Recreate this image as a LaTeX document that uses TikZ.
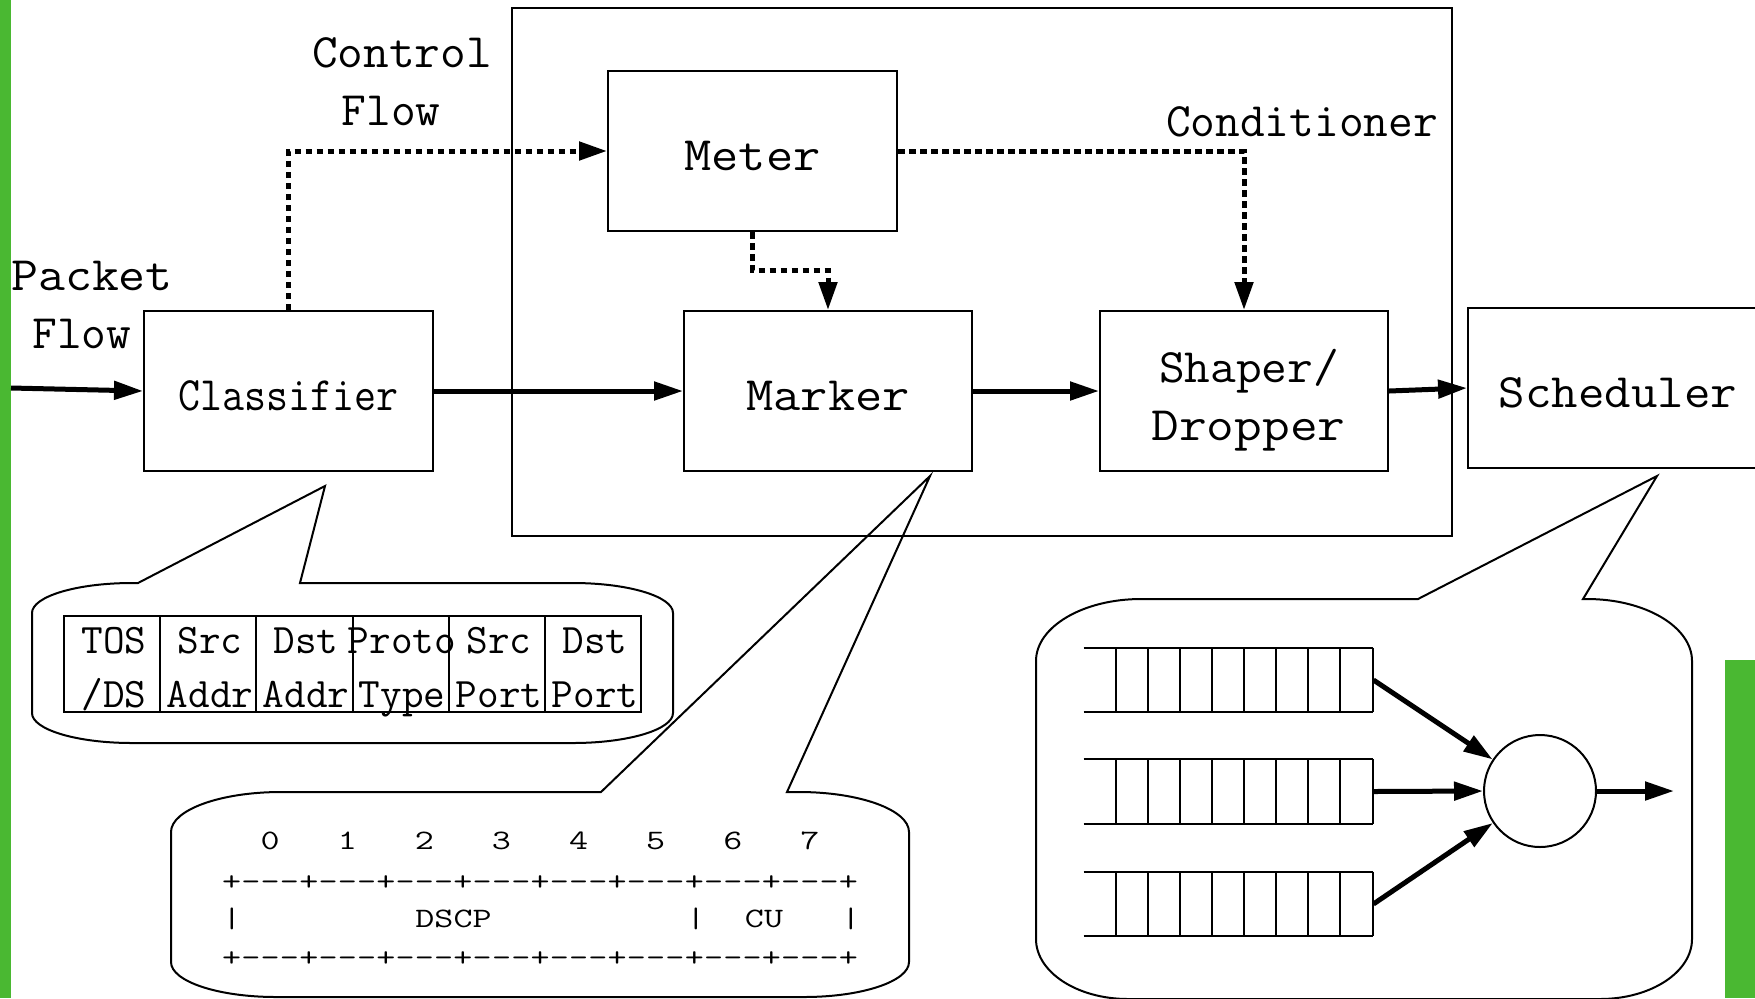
\documentclass[tikz,border=0pt]{standalone}
\usepackage{graphicx}
\usetikzlibrary{arrows.meta,calc}
\definecolor{sidegreen}{RGB}{74,184,50}
\newcommand\hsq[2]{\scalebox{#1}[1]{#2}}
\newcommand\squash[1]{\scalebox{1}[0.76]{#1}}
\begin{document}
\begin{tikzpicture}[x=0.5pt,y=-0.5pt,
  big/.style={font=\fontsize{24}{29}\selectfont\ttfamily},
  lbl/.style={big, inner sep=0pt, anchor=base},
  box/.style={draw, line width=1pt, inner sep=0pt, big, minimum width=144.5pt, minimum height=80pt},
  blk/.style={box, text height=19.5pt, text depth=0pt},
  flow/.style={line width=2.5pt, -{Triangle[length=14.5pt,width=9pt]}},
  ctrl/.style={line width=2.5pt, dash pattern=on 3.25pt off 2.25pt, -{Triangle[length=14pt,width=9pt]}},
  hair/.style={line width=1pt},
  cell/.style={font=\fontsize{21}{27}\selectfont\ttfamily, inner sep=0pt, anchor=base},
  bits/.style={font=\fontsize{18.5}{20}\selectfont\ttfamily, inner sep=0pt, anchor=base},
]
\useasboundingbox (0,0) rectangle (1755,998);
\clip (0,0) rectangle (1755,998);

% side bars
\fill[sidegreen] (0,0) rectangle (11,998);
\fill[sidegreen] (1725,660) rectangle (1755,998);

% conditioner frame and its blocks
\node[draw, hair, minimum width=470pt, minimum height=264pt, inner sep=0pt] (cond) at (982,272) {};
\node[lbl] (condlbl) at (1302,136) {Conditioner};

\node[blk] (cls) at (288.5,391) {\hsq{0.89}{Classifier}};
\node[blk] (meter) at (752.5,151) {\hsq{1.1}{Meter}};
\node[blk, minimum width=144pt] (marker) at (828,391) {\hsq{1.1}{Marker}};
\node[box, minimum width=144pt] (shp) at (1244,391) {};
\node[lbl] (shp1) at (1249,382) {\hsq{1.04}{Shaper/}};
\node[lbl] (shp2) at (1248.5,440) {\hsq{1.12}{Dropper}};
\node[blk, minimum width=150pt] (sch) at (1618,388) {\hsq{1.07}{Scheduler}};

% flow labels
\node[lbl] (ctl1) at (402,67) {\hsq{1.04}{Control}};
\node[lbl] (ctl2) at (391,125) {Flow};
\node[lbl] (pk1) at (92,290) {\hsq{1.09}{Packet}};
\node[lbl] (pk2) at (82,348) {Flow};

% packet path
\coordinate (pin) at (11,388);
\draw[flow] (pin) -- (cls.west);
\draw[flow] (cls.east) -- (marker.west);
\draw[flow] (marker.east) -- (shp.west);
\draw[flow] (shp.east) -- (sch.west);

% control path
\draw[ctrl] (cls.north) |- (meter.west);
\draw[ctrl] (meter.east) -| (shp.north);
\draw[ctrl] (meter.south) |- ($(marker.north)+(0,-40)$) -- (marker.north);

% callout: classifier fields
\draw[hair] (138,583) -- (325,486) -- (300,583) -- (573,583)
  arc[start angle=-90,end angle=0,x radius=100,y radius=30] -- (673,713)
  arc[start angle=0,end angle=90,x radius=100,y radius=30] -- (132,743)
  arc[start angle=90,end angle=180,x radius=100,y radius=30] -- (32,613)
  arc[start angle=180,end angle=270,x radius=100,y radius=30] -- cycle;
\draw[hair] (64,616) rectangle (641,712);
\foreach \k in {1,...,5} \draw[hair] ({64+96.17*\k},616) -- ({64+96.17*\k},712);
\node[cell] (f1a) at (114,653) {TOS};
\node[cell] (f1b) at (114,707) {/DS};
\node[cell] (f2a) at (210,653) {Src};
\node[cell] (f2b) at (210,707) {Addr};
\node[cell] (f3a) at (306,653) {Dst};
\node[cell] (f3b) at (306,707) {Addr};
\node[cell] (f4a) at (402,653) {Proto};
\node[cell] (f4b) at (402,707) {Type};
\node[cell] (f5a) at (499,653) {Src};
\node[cell] (f5b) at (499,707) {Port};
\node[cell] (f6a) at (595,653) {Dst};
\node[cell] (f6b) at (595,707) {Port};

% callout: DS field layout
\draw[hair] (601,792) -- (930,476) -- (787,792) -- (799,792)
  arc[start angle=-90,end angle=0,x radius=110,y radius=40] -- (909,962)
  arc[start angle=0,end angle=90,x radius=105,y radius=35] -- (276,997)
  arc[start angle=90,end angle=180,x radius=105,y radius=35] -- (171,832)
  arc[start angle=180,end angle=270,x radius=110,y radius=40] -- cycle;
\foreach \d [count=\k from 0] in {0,...,7}
  \node[bits] (bit\d) at ({270.2+77.1*\k},849) {\squash{\d}};
\foreach \r/\yy in {a/890,b/966} {
  \foreach \k in {0,...,8}
    \node[bits] (p\r\k) at ({231.7+77.1*\k},\yy) {\squash{+}};
  \foreach \k in {0,...,7}
    \foreach \j in {1,2,3}
      \node[bits] (m\r\k\j) at ({231.7+77.1*\k+19.27*\j},\yy) {\squash{-}};
}
\node[bits] (bara) at (232,927) {\squash{|}};
\node[bits] (dscp) at (453.5,927) {\squash{DSCP}};
\node[bits] (barb) at (696,927) {\squash{|}};
\node[bits] (cu) at (764,927) {\squash{CU}};
\node[bits] (barc) at (851,927) {\squash{|}};

% callout: scheduler queues
\draw[hair] (1418,599) -- (1657,476) -- (1583,599) -- (1587,599)
  arc[start angle=-90,end angle=0,x radius=105,y radius=62] -- (1692,939)
  arc[start angle=0,end angle=90,x radius=92,y radius=60] -- (1128,999)
  arc[start angle=90,end angle=180,x radius=92,y radius=60] -- (1036,661)
  arc[start angle=180,end angle=270,x radius=105,y radius=62] -- cycle;
\foreach \n/\yc in {1/680,2/791.5,3/904} {
  \node[minimum width=144.5pt, minimum height=32pt, inner sep=0pt] (q\n) at (1228.5,\yc) {};
  \draw[hair] (q\n.north west) -- (q\n.north east) (q\n.south west) -- (q\n.south east);
  \foreach \k in {0,...,8}
    \draw[hair] ($(q\n.north west)+({32+32.125*\k},0)$) -- ($(q\n.south west)+({32+32.125*\k},0)$);
}
\node[circle, draw, hair, minimum size=56pt, inner sep=0pt] (sel) at (1540,791) {};
\draw[flow] (q1.east) -- (sel);
\draw[flow] (q2.east) -- (sel.west);
\draw[flow] (q3.east) -- (sel);
\coordinate (out) at (1674,791);
\draw[flow] (sel.east) -- (out);
\end{tikzpicture}
\end{document}
